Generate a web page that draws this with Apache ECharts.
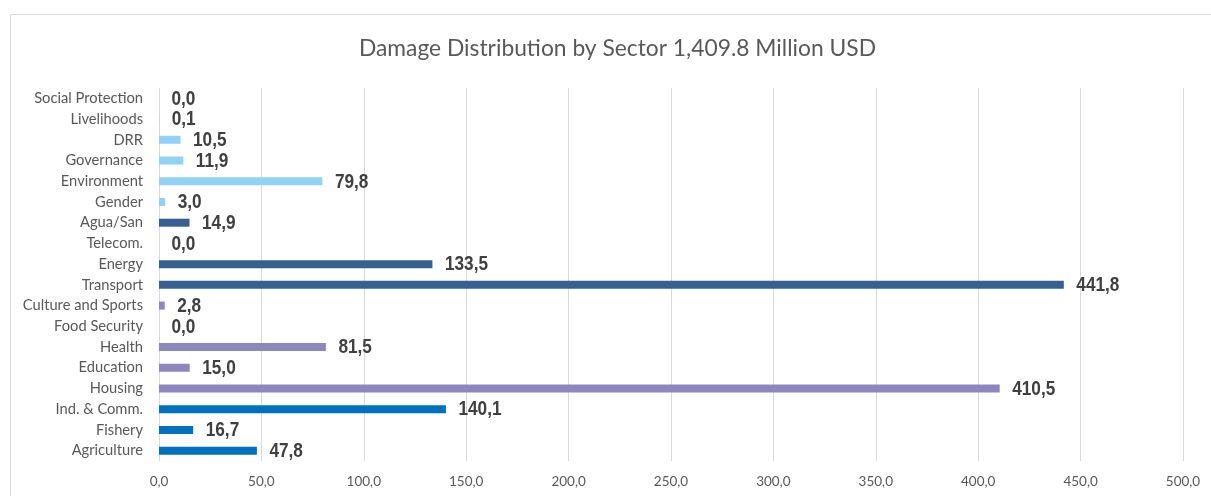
<!DOCTYPE html>
<html>
<head>
<meta charset="utf-8">
<script src="https://cdn.jsdelivr.net/npm/echarts@6/dist/echarts.min.js"></script>
<style>
html,body{margin:0;padding:0;background:#fff;}
#chart{width:1211px;height:496px;}
</style>
</head>
<body>
<div id="chart"></div>
<script>
// Data (bottom to top as drawn by a category y-axis)
var categories = ["Agriculture","Fishery","Ind. & Comm.","Housing","Education","Health","Food Security","Culture and Sports","Transport","Energy","Telecom.","Agua/San","Gender","Environment","Governance","DRR","Livelihoods","Social Protection"];
var values = [47.8,16.7,140.1,410.5,15.0,81.5,0.0,2.8,441.8,133.5,0.0,14.9,3.0,79.8,11.9,10.5,0.1,0.0];
var groups = ["Productive","Productive","Productive","Social","Social","Social","Social","Social","Infrastructure","Infrastructure","Infrastructure","Infrastructure","Cross-cutting","Cross-cutting","Cross-cutting","Cross-cutting","Cross-cutting","Cross-cutting"];
var xTicks = [0,50,100,150,200,250,300,350,400,450,500];
var title = "Damage Distribution by Sector 1,409.8 Million USD";

var groupColors = {"Productive":"#0070C0","Social":"#8E86BF","Infrastructure":"#376092","Cross-cutting":"#8ED3F5"};
function fmt(v){ return Number(v).toFixed(1).replace('.', ','); }

var chart = echarts.init(document.getElementById('chart'), null, {renderer:'canvas'});
chart.setOption({
  animation:false,
  backgroundColor:'#fff',
  title:{
    text:title, left:354, top:32,
    textStyle:{fontFamily:'Lato, "Open Sans", sans-serif', fontSize:22.8, fontWeight:'normal', color:'#595959'}
  },
  graphic:[{
    type:'rect', shape:{x:10.5,y:14.5,width:1300,height:600},
    style:{fill:'none', stroke:'#d9d9d9', lineWidth:1}, silent:true
  }],
  grid:{left:159, right:28, top:88, bottom:35, containLabel:false},
  xAxis:{
    type:'value', min:xTicks[0], max:xTicks[xTicks.length-1], interval:xTicks[1]-xTicks[0],
    axisLine:{show:false}, axisTick:{show:false},
    splitLine:{show:true, lineStyle:{color:'#d9d9d9', width:1}},
    axisLabel:{formatter:function(v){return fmt(v);}, color:'#595959', fontSize:13.5, fontFamily:'Lato, "Open Sans", sans-serif', margin:14}
  },
  yAxis:{
    type:'category', data:categories,
    axisLine:{show:false}, axisTick:{show:false}, splitLine:{show:false},
    axisLabel:{color:'#595959', fontSize:14.7, fontFamily:'Lato, "Open Sans", sans-serif', margin:16}
  },
  series:[{
    type:'bar', barWidth:8,
    data:values.map(function(v,i){ return {value:v, itemStyle:{color:groupColors[groups[i]]}}; })
  },{
    type:'custom',
    data:values.map(function(v,i){ return [v,i]; }),
    renderItem:function(params, api){
      var v = api.value(0), idx = api.value(1);
      var pt = api.coord([v, idx]);
      return {
        type:'text', x:pt[0]+12.5, y:pt[1]+0.5, scaleX:0.82, silent:true,
        style:{
          text:fmt(v), x:0, y:0, align:'left', verticalAlign:'middle',
          fill:'#404040', font:'bold 21px "Liberation Sans", Arial, sans-serif'
        }
      };
    },
    z:5
  }]
});
</script>
</body>
</html>
